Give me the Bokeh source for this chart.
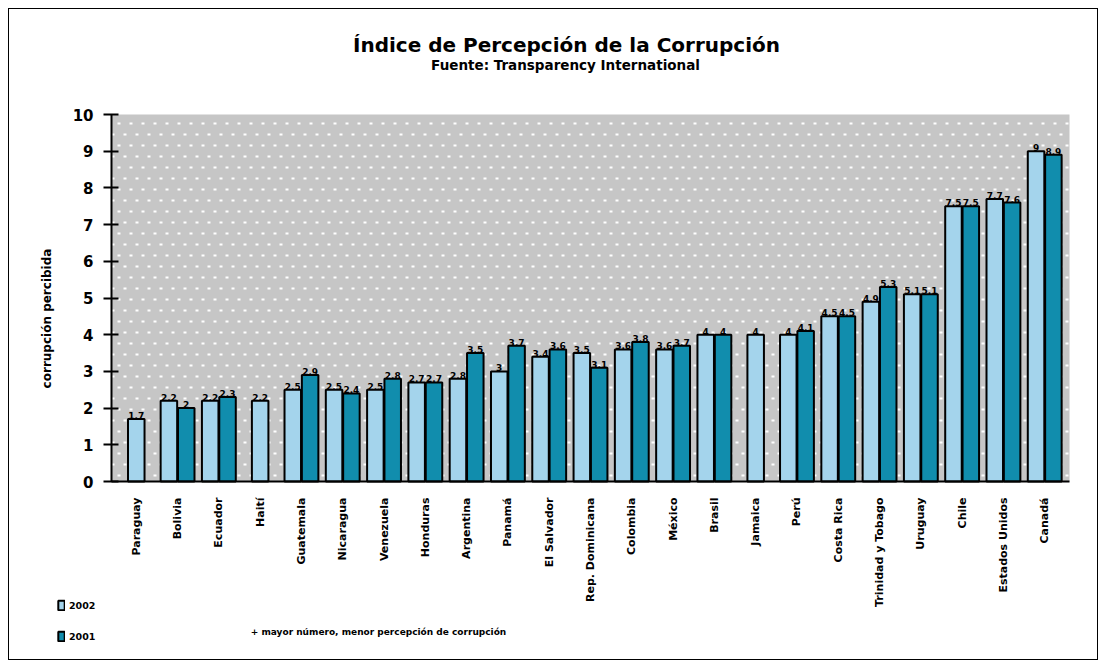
import math
from bokeh.plotting import figure
from bokeh.models import (Range1d, FixedTicker, Legend, LegendItem, Grid, Label,
                          BoxAnnotation)
from bokeh.embed import file_html
from bokeh.resources import INLINE
from bokeh.core.properties import value

# ---------------- data ----------------
categories = ["Paraguay", "Bolivia", "Ecuador", "Haití", "Guatemala", "Nicaragua",
              "Venezuela", "Honduras", "Argentina", "Panamá", "El Salvador",
              "Rep. Dominicana", "Colombia", "México", "Brasil", "Jamaica", "Perú",
              "Costa Rica", "Trinidad y Tobago", "Uruguay", "Chile", "Estados Unidos",
              "Canadá"]
v2002 = [1.7, 2.2, 2.2, 2.2, 2.5, 2.5, 2.5, 2.7, 2.8, 3.0, 3.4, 3.5, 3.6, 3.6,
         4.0, 4.0, 4.0, 4.5, 4.9, 5.1, 7.5, 7.7, 9.0]
v2001 = [None, 2.0, 2.3, None, 2.9, 2.4, 2.8, 2.7, 3.5, 3.7, 3.6, 3.1, 3.8, 3.7,
         4.0, None, 4.1, 4.5, 5.3, 5.1, 7.5, 7.6, 8.9]
series_names = ["2002", "2001"]
y_ticks = list(range(0, 11))
title_text = "Índice de Percepción de la Corrupción"
subtitle_text = "Fuente: Transparency International"
y_label_text = "corrupción percibida"
note_text = "+ mayor número, menor percepción de corrupción"

# ---------------- style / geometry ----------------
FONT = "DejaVu Sans"
C2002 = "#a4d4ec"
C2001 = "#118dad"
BG = "#c6c6c6"

PAGE_L, PAGE_T = 8, 8
W, H = 1090, 652
AREA_L, AREA_R, AREA_T, AREA_B = 110, 1068, 113, 480   # plot area in page px

n = len(categories)
X0, X1 = -0.1, n + 0.1
Y0, Y1 = 0, 10
SX = (AREA_R - AREA_L) / (X1 - X0)
SY = (AREA_B - AREA_T) / (Y1 - Y0)
XL = X0 - (AREA_L - PAGE_L) / SX
XR = X1 + (PAGE_L + W - AREA_R) / SX
YT = Y1 + (AREA_T - PAGE_T) / SY
YB = Y0 - (PAGE_T + H - AREA_B) / SY

def dx(px):
    return X0 + (px - AREA_L) / SX

def dy(py):
    return Y0 + (AREA_B - py) / SY

centers = [i + 0.5 for i in range(n)]
off, bw = 0.21, 0.40
x02, x01, y01 = [], [], []
for i, (a, b) in enumerate(zip(v2002, v2001)):
    if b is None:
        x02.append(centers[i])
    else:
        x02.append(centers[i] - off)
        x01.append(centers[i] + off)
        y01.append(b)

def fmt(v):
    return "%g" % v

p = figure(width=W, height=H, x_range=Range1d(XL, XR), y_range=Range1d(YB, YT),
           output_backend="svg", toolbar_location=None, title=None,
           min_border_left=0, min_border_right=0, min_border_top=0,
           min_border_bottom=0)
p.margin = (PAGE_T, 8, 8, PAGE_L)
p.styles = {"border": "1px solid black"}
p.background_fill_color = "white"
p.border_fill_color = "white"
p.outline_line_color = None
p.xgrid.visible = False
p.ygrid.visible = False

# grey plot area and its dotted texture
p.add_layout(BoxAnnotation(left=X0, right=X1, bottom=Y0, top=Y1, fill_color=BG,
                           fill_alpha=1, line_color=None, level="underlay"))
g1 = Grid(dimension=1, ticker=FixedTicker(ticks=[0.15 + 0.6 * k for k in range(17)]),
          grid_line_color="white", grid_line_width=2, grid_line_dash="3 9",
          bounds=(X0, X1))
g2 = Grid(dimension=1, ticker=FixedTicker(ticks=[0.45 + 0.6 * k for k in range(17)]),
          grid_line_color="white", grid_line_width=2, grid_line_dash="3 9",
          grid_line_dash_offset=6, bounds=(X0, X1))
p.add_layout(g1)
p.add_layout(g2)

r1 = p.vbar(x=x02, top=v2002, width=bw, bottom=0, fill_color=C2002,
            line_color="black", line_width=2)
r2 = p.vbar(x=x01, top=y01, width=bw, bottom=0, fill_color=C2001,
            line_color="black", line_width=2)

for xs, ys in ((x02, v2002), (x01, y01)):
    p.text(x=xs, y=ys, text=[fmt(v) for v in ys], text_align="center",
           text_baseline="bottom", text_font=value(FONT), text_font_size="9px",
           text_font_style="bold", text_color="black")

# axes, pinned to the plot-area edges
p.yaxis.fixed_location = X0
p.yaxis.bounds = (Y0, Y1)
p.yaxis.ticker = FixedTicker(ticks=y_ticks)
p.yaxis.axis_line_width = 2
p.yaxis.major_tick_in = 7
p.yaxis.major_tick_out = 8
p.yaxis.major_tick_line_width = 2
p.yaxis.minor_tick_line_color = None
p.yaxis.major_label_text_font = FONT
p.yaxis.major_label_text_font_size = "15px"
p.yaxis.major_label_text_font_style = "bold"
p.yaxis.major_label_text_color = "black"
p.yaxis.major_label_standoff = 10

p.xaxis.fixed_location = Y0
p.xaxis.bounds = (X0, X1)
p.xaxis.ticker = FixedTicker(ticks=centers)
p.xaxis.major_label_overrides = {c: name for c, name in zip(centers, categories)}
p.xaxis.major_label_orientation = math.pi / 2
p.xaxis.major_tick_line_color = None
p.xaxis.minor_tick_line_color = None
p.xaxis.axis_line_width = 2
p.xaxis.major_label_text_font = FONT
p.xaxis.major_label_text_font_size = "11px"
p.xaxis.major_label_text_font_style = "bold"
p.xaxis.major_label_text_color = "black"
p.xaxis.major_label_standoff = 10

# texts
def add_label(text, px, py, size, angle=0.0):
    p.add_layout(Label(x=dx(px), y=dy(py), text=text, text_align="center",
                       text_baseline="middle", angle=angle, text_font=FONT,
                       text_font_size=size, text_font_style="bold",
                       text_color="black"))

add_label(title_text, 565, 43, "20px")
add_label(subtitle_text, 564, 63, "13.5px")
add_label(note_text, 377, 630, "9px")
add_label(y_label_text, 45, 317, "12px", angle=math.pi / 2)

legend = Legend(items=[LegendItem(label=series_names[0], renderers=[r1]),
                       LegendItem(label=series_names[1], renderers=[r2])],
                location=(56 - PAGE_L, PAGE_T + H - 641), background_fill_alpha=0,
                border_line_color=None, glyph_width=8, glyph_height=12,
                label_text_font=FONT, label_text_font_size="9.5px",
                label_text_font_style="bold", label_text_color="black",
                label_height=12, spacing=19, padding=0, margin=0, label_standoff=4)
p.add_layout(legend)

open("out.html", "w").write(file_html(p, INLINE))
